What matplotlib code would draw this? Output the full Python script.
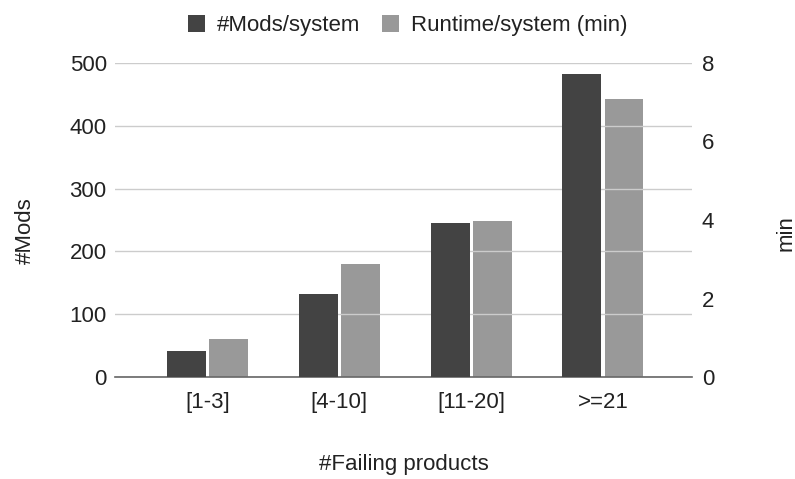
import matplotlib
matplotlib.use("Agg")
import matplotlib.pyplot as plt
import numpy as np

plt.rcParams['font.family'] = ['Liberation Sans', 'DejaVu Sans']

categories = ["[1-3]", "[4-10]", "[11-20]", ">=21"]
mods_per_system = [42, 132, 245, 482]
runtime_per_system = [0.97, 2.87, 3.98, 7.07]
left_ticks = [0, 100, 200, 300, 400, 500]
right_ticks = [0, 2, 4, 6, 8]

dark = "#434343"
light = "#999999"
text_color = "#222222"
fs = 16

fig = plt.figure(figsize=(7.95, 4.79), dpi=100)
ax = fig.add_axes([0.1447, 0.2129, 0.7257, 0.6556])
ax2 = ax.twinx()

x = np.arange(len(categories))
w = 0.295
gap = 0.012
b1 = ax.bar(x - w / 2 - gap, mods_per_system, width=w, color=dark, zorder=3,
            label="#Mods/system")
b2 = ax2.bar(x + w / 2 + gap, runtime_per_system, width=w, color=light, zorder=3,
             label="Runtime/system (min)")

ax.set_xlim(-0.70, 3.675)
ax.set_ylim(0, 500)
ax2.set_ylim(0, 8)
ax.set_yticks(left_ticks)
ax2.set_yticks(right_ticks)
ax.set_xticks(x)
ax.set_xticklabels(categories)

ax.yaxis.grid(True, color="#cccccc", linewidth=1.0, zorder=0)
ax.set_axisbelow(True)
for a in (ax, ax2):
    for s in a.spines.values():
        s.set_visible(False)
    a.tick_params(length=0, labelsize=fs, colors=text_color)
ax.spines['bottom'].set_visible(True)
ax.spines['bottom'].set_color("#666666")
ax.spines['bottom'].set_linewidth(1.2)
ax.tick_params(axis='y', pad=6)
ax.tick_params(axis='x', pad=11)
ax2.tick_params(axis='y', pad=7)

ax.set_xlabel("#Failing products", fontsize=fs, color=text_color, labelpad=29)
ax.set_ylabel("#Mods", fontsize=fs, color=text_color, labelpad=24)
ax2.set_ylabel("min", fontsize=fs, color=text_color, labelpad=44)
ax.yaxis.label.set_y(0.465)
ax2.yaxis.label.set_y(0.46)
ax.set_zorder(ax2.get_zorder() + 1)
ax.patch.set_visible(False)

fig.legend(handles=[b1, b2], loc="upper center", bbox_to_anchor=(0.513, 1.01),
           ncol=2, frameon=False, fontsize=fs, handlelength=0.77, handleheight=0.77,
           handletextpad=0.55, columnspacing=0.95, labelcolor=text_color)

fig.savefig("out.png", dpi=100)
